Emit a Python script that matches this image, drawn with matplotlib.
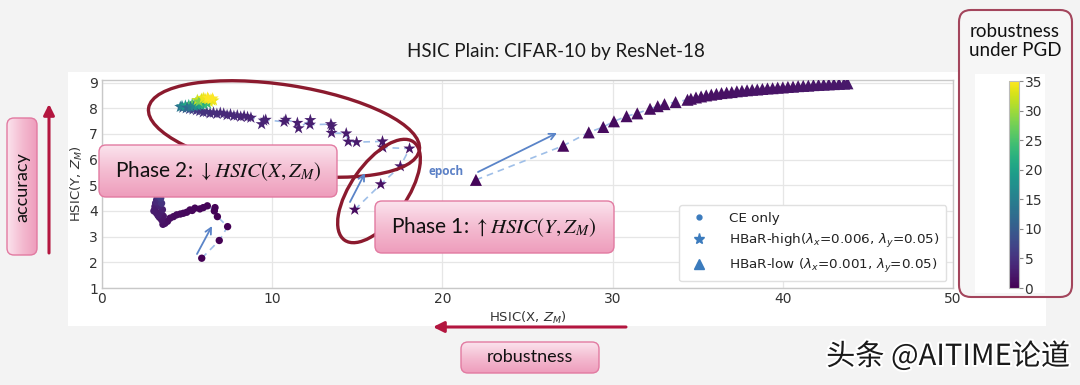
import numpy as np
import matplotlib
matplotlib.use("Agg")
import matplotlib.pyplot as plt
from matplotlib.patches import Ellipse, FancyBboxPatch, Rectangle
from matplotlib.lines import Line2D
from matplotlib.colors import LinearSegmentedColormap
import matplotlib.patheffects as pe

# CE only: HSIC(X,Z_M), HSIC(Y,Z_M), robustness under PGD
ce_x = [5.86, 6.89, 7.38, 6.78, 6.64, 6.60, 6.19, 5.95, 5.75, 5.46, 5.30, 5.17, 4.98,
        4.78, 4.60, 4.39, 4.20, 4.00, 3.85, 3.70, 3.58, 3.51, 3.38, 3.21, 3.11, 3.05,
        3.11, 3.15, 3.21, 3.25, 3.30, 3.35, 3.40, 3.45,
        3.60, 3.45, 3.30, 3.55, 3.40, 3.20, 3.35, 3.50, 3.25, 3.45, 3.30, 3.40]
ce_y = [2.16, 2.85, 3.39, 3.78, 4.13, 4.00, 4.20, 4.13, 4.08, 4.11, 4.02, 4.04, 3.95,
        3.91, 3.88, 3.85, 3.78, 3.72, 3.60, 3.52, 3.48, 3.65, 3.75, 3.91, 4.05, 4.00,
        4.17, 4.30, 4.43, 4.55, 4.70, 4.90, 5.15, 5.40,
        3.80, 3.95, 3.82, 4.05, 4.20, 4.35, 4.45, 4.30, 4.60, 4.50, 4.75, 4.62]
ce_r = [0.0, 0.0, 0.0, 0.0, 0.2, 0.2, 0.3, 0.5, 0.5, 0.5, 0.6, 0.6, 0.7,
        0.8, 0.9, 1.0, 1.0, 1.1, 1.3, 1.5, 1.6, 1.8, 2.0, 2.2, 2.5, 2.6,
        2.8, 3.2, 3.6, 4.2, 5.0, 6.0, 7.0, 8.0,
        2.0, 2.4, 2.6, 3.0, 3.5, 4.0, 4.5, 5.0, 5.5, 6.0, 6.5, 7.0]

# HBaR-high
hi_x = [14.85, 16.38, 17.53, 18.07, 16.50, 16.48, 14.96, 14.47, 14.35, 13.49, 13.50,
        13.45, 12.22, 12.24, 11.55, 11.48, 10.80, 10.70, 9.62, 9.38, 9.50, 8.75, 8.55,
        8.35, 8.15, 7.95, 7.75, 7.55, 7.35, 7.15, 6.95, 6.75, 6.55, 6.35, 6.15, 5.95,
        5.75, 5.55, 5.35, 5.15, 4.95, 4.75, 4.60, 4.70, 4.90, 5.10, 5.30, 5.50, 5.70,
        5.90, 6.10, 6.30, 6.45, 6.30, 6.10, 5.80,
        5.00, 5.20, 5.40, 5.60, 5.80, 6.00, 6.20, 5.60, 5.85, 6.05, 6.25, 6.40,
        6.55, 6.50, 5.70, 5.95, 6.20]
hi_y = [4.05, 5.04, 5.74, 6.43, 6.47, 6.71, 6.68, 6.70, 7.02, 7.04, 7.30,
        7.38, 7.36, 7.54, 7.22, 7.43, 7.55, 7.47, 7.55, 7.38, 7.52, 7.63, 7.66,
        7.70, 7.67, 7.72, 7.70, 7.76, 7.73, 7.79, 7.82, 7.78, 7.83, 7.80, 7.86, 7.84,
        7.89, 7.92, 7.95, 7.97, 8.00, 8.02, 8.05, 8.08, 8.10, 8.12, 8.16, 8.20, 8.22,
        8.25, 8.27, 8.30, 8.30, 8.24, 8.32, 8.30,
        8.02, 8.05, 8.08, 8.10, 8.12, 8.15, 8.18, 8.32, 8.36, 8.37, 8.36, 8.34,
        8.30, 8.38, 8.26, 8.40, 8.41]
hi_r = [1.0, 1.5, 2.0, 2.0, 2.0, 2.0, 2.5, 2.5, 2.5, 2.5, 3.0,
        3.0, 3.0, 3.0, 3.0, 3.0, 3.0, 3.0, 3.0, 3.5, 3.5, 3.5, 3.5,
        3.5, 3.5, 4.0, 4.0, 4.0, 4.0, 4.0, 4.0, 4.5, 4.5, 4.5, 5.0, 5.0,
        5.0, 5.5, 6.0, 7.0, 8.0, 10.0, 13.0, 16.0, 19.0, 22.0, 25.0, 27.0, 29.0,
        30.0, 31.0, 32.0, 33.0, 34.0, 34.0, 35.0,
        12.0, 14.0, 16.0, 18.0, 20.0, 22.0, 24.0, 32.0, 33.0, 34.0, 35.0, 35.0,
        34.0, 35.0, 28.0, 34.0, 35.0]

# HBaR-low
lo_x = [21.97, 27.10, 28.60, 29.45, 30.08, 30.82, 31.45, 32.20, 32.65, 33.05, 33.70,
        34.40, 34.60, 34.90, 35.20, 35.50, 35.80, 36.10, 36.40, 36.70, 37.00, 37.30,
        37.60, 37.90, 38.20, 38.50, 38.80, 39.10, 39.40, 39.70, 40.00, 40.30, 40.60,
        40.90, 41.20, 41.50, 41.80, 42.10, 42.40, 42.70, 43.00, 43.30, 43.60, 43.80]
lo_y = [5.21, 6.54, 7.06, 7.27, 7.49, 7.69, 7.80, 7.98, 8.08, 8.16, 8.24,
        8.33, 8.37, 8.42, 8.46, 8.50, 8.53, 8.56, 8.59, 8.61, 8.63, 8.66,
        8.68, 8.70, 8.72, 8.73, 8.75, 8.77, 8.78, 8.80, 8.81, 8.83, 8.84,
        8.86, 8.87, 8.88, 8.90, 8.91, 8.92, 8.93, 8.94, 8.95, 8.96, 8.97]
lo_r = [0.5, 0.8, 1.0, 1.0, 1.0, 1.2, 1.2, 1.2, 1.3, 1.3, 1.4,
        1.4, 1.4, 1.5, 1.5, 1.5, 1.5, 1.6, 1.6, 1.6, 1.6, 1.7,
        1.7, 1.7, 1.7, 1.8, 1.8, 1.8, 1.8, 1.9, 1.9, 1.9, 1.9,
        2.0, 2.0, 2.0, 2.0, 2.0, 2.1, 2.1, 2.1, 2.1, 2.2, 2.2]

labels = ["CE only",
          r"HBaR-high($\lambda_x$=0.006, $\lambda_y$=0.05)",
          r"HBaR-low ($\lambda_x$=0.001, $\lambda_y$=0.05)"]

W, H = 1080, 385
fig = plt.figure(figsize=(W / 100, H / 100), dpi=100, facecolor="#f3f3f3")

# background layer in pixel coords
bg = fig.add_axes([0, 0, 1, 1], zorder=-10)
bg.axis("off")
bg.add_patch(Rectangle((68, 72), 978, 254, fc="white", ec="none"))
bg.set_xlim(0, W)
bg.set_ylim(H, 0)

# main plot
ax = fig.add_axes([102 / W, 1 - 288 / H, 851 / W, 208 / H], zorder=1)
ax.set_facecolor("white")
ax.grid(True, color="#e6e6e6", lw=0.9)
ax.set_axisbelow(True)
for s in ax.spines.values():
    s.set_color("#c8c8c8")
    s.set_linewidth(1.0)
ax.tick_params(length=0, pad=3, labelsize=10, labelcolor="#333333")

line_kw = dict(color="#9fbfe8", lw=1.2, ls=(0, (4, 3)), zorder=2)
n_ce, n_hi = 34, 56  # points along the epoch path (rest only thicken the clusters)
ax.plot(ce_x[:n_ce], ce_y[:n_ce], **line_kw)
ax.plot(hi_x[:n_hi], hi_y[:n_hi], **line_kw)
ax.plot(lo_x, lo_y, **line_kw)
sc_kw = dict(cmap="viridis", vmin=0, vmax=35, linewidths=0, zorder=3)
ax.scatter(ce_x, ce_y, c=ce_r, s=28, marker="o", **sc_kw)
ax.scatter(hi_x, hi_y, c=hi_r, s=85, marker="*", **sc_kw)
sc = ax.scatter(lo_x, lo_y, c=lo_r, s=75, marker="^", **sc_kw)

ax.set_xlim(0, 50)
ax.set_ylim(1, 9.1)
ax.set_xticks(range(0, 51, 10))
ax.set_yticks(range(1, 10))
ax.set_xlabel(r"HSIC(X, $Z_M$)", fontsize=9.5, color="#333333", labelpad=3)
ax.set_ylabel(r"HSIC(Y, $Z_M$)", fontsize=9.5, color="#333333", labelpad=3)

lc = "#3b7bbd"
handles = [Line2D([], [], marker="o", ls="none", color=lc, markersize=3.5),
           Line2D([], [], marker="*", ls="none", color=lc, markersize=8),
           Line2D([], [], marker="^", ls="none", color=lc, markersize=7.5)]
leg = ax.legend(handles, labels, loc="lower right", fontsize=9.7, framealpha=1,
                edgecolor="#e0e0e0", handletextpad=1.2, borderpad=0.5)
for t in leg.get_texts():
    t.set_color("#222222")

# overlay layer in pixel coords
ov = fig.add_axes([0, 0, 1, 1], zorder=10)
ov.axis("off")
ov.set_autoscale_on(False)
ov.set_xlim(0, W)
ov.set_ylim(H, 0)

pink = LinearSegmentedColormap.from_list("pink", ["#fbe3ed", "#f4bcd1", "#ee9dbc"])


def pink_box(x0, y0, w, h, horizontal=False, r=7):
    patch = FancyBboxPatch((x0, y0), w, h, boxstyle=f"round,pad=0,rounding_size={r}",
                           fc="none", ec="#e27aa1", lw=1.0, zorder=12)
    ov.add_patch(patch)
    g = np.linspace(0, 1, 64)
    g = g.reshape(1, -1) if horizontal else g.reshape(-1, 1)
    im = ov.imshow(g, cmap=pink, extent=(x0, x0 + w, y0 + h, y0), aspect="auto",
                   zorder=11.5, interpolation="bilinear")
    im.set_clip_path(patch)


red = "#8b1a2e"
ov.add_patch(Ellipse((284, 129), 274, 88, angle=8.8, fill=False, ec=red, lw=2.4, zorder=11))
ov.add_patch(Ellipse((379, 191), 120, 56, angle=-55, fill=False, ec=red, lw=2.4, zorder=11))

pink_box(99, 145, 238, 52)
ov.text(218, 171, r"Phase 2: $\downarrow HSIC(X, Z_M)$", ha="center", va="center",
        fontsize=15, family="Lato", math_fontfamily="stix", color="#111111", zorder=13)
pink_box(375, 201, 239, 52)
ov.text(494, 227, r"Phase 1: $\uparrow HSIC(Y, Z_M)$", ha="center", va="center",
        fontsize=15, family="Lato", math_fontfamily="stix", color="#111111", zorder=13)

# epoch arrows
blue = "#5a84c8"
akw = dict(arrowstyle="->", color=blue, lw=1.3, mutation_scale=11, shrinkA=0, shrinkB=0)
ov.annotate("", xy=(212, 226), xytext=(197, 254), arrowprops=akw, zorder=12)
ov.annotate("", xy=(365, 173), xytext=(350, 202), arrowprops=akw, zorder=12)
ov.annotate("", xy=(557, 133), xytext=(478, 172), arrowprops=akw, zorder=12)
ov.text(446, 172, "epoch", ha="center", va="center", fontsize=8.5, fontweight="bold",
        family="Open Sans", color="#5b80c6", zorder=12)

# accuracy / robustness cues
crim = "#b3163f"
ov.annotate("", xy=(49, 104), xytext=(49, 253),
            arrowprops=dict(arrowstyle="-|>", color=crim, lw=2.2, mutation_scale=16,
                            shrinkA=0, shrinkB=0), zorder=12)
ov.annotate("", xy=(433, 327), xytext=(626, 327),
            arrowprops=dict(arrowstyle="-|>", color=crim, lw=2.2, mutation_scale=16,
                            shrinkA=0, shrinkB=0), zorder=12)
pink_box(7, 118, 30, 137, horizontal=True)
ov.text(22, 187, "accuracy", rotation=90, ha="center", va="center", fontsize=13,
        family="Lato", color="#111111", zorder=13)
pink_box(461, 342, 138, 31)
ov.text(530, 357, "robustness", ha="center", va="center", fontsize=13,
        family="Lato", color="#111111", zorder=13)

# title
ov.text(556, 52, "HSIC Plain: CIFAR-10 by ResNet-18", ha="center", va="center",
        fontsize=13.5, family="Lato", color="#1a1a1a")

# colorbar panel
ov.add_patch(FancyBboxPatch((959, 10), 113, 287, boxstyle="round,pad=0,rounding_size=12",
                            fc="#f6f6f6", ec="#a3455c", lw=1.5, zorder=10))
ov.add_patch(Rectangle((975, 74), 70, 219, fc="white", ec="none", zorder=10.5))
ov.text(1015, 41, "robustness\nunder PGD", ha="center", va="center", fontsize=13.5,
        family="Lato", color="#111111", linespacing=1.2, zorder=12)

cax = fig.add_axes([1009 / W, 1 - 288 / H, 10 / W, 207 / H], zorder=20)
cb = fig.colorbar(sc, cax=cax, ticks=range(0, 36, 5))
cb.outline.set_edgecolor("#bbbbbb")
cb.outline.set_linewidth(0.8)
cax.tick_params(labelsize=10, length=3, width=0.8, color="#888888", labelcolor="#333333", pad=1)

# watermark
ov.text(1070, 357, "头条 @AITIME论道", ha="right", va="center", fontsize=21,
        family=["Noto Sans CJK SC", "DejaVu Sans"], color="#1a1a1a", zorder=13,
        path_effects=[pe.withStroke(linewidth=3, foreground="white")])

fig.savefig("out.png", dpi=100, facecolor=fig.get_facecolor())
